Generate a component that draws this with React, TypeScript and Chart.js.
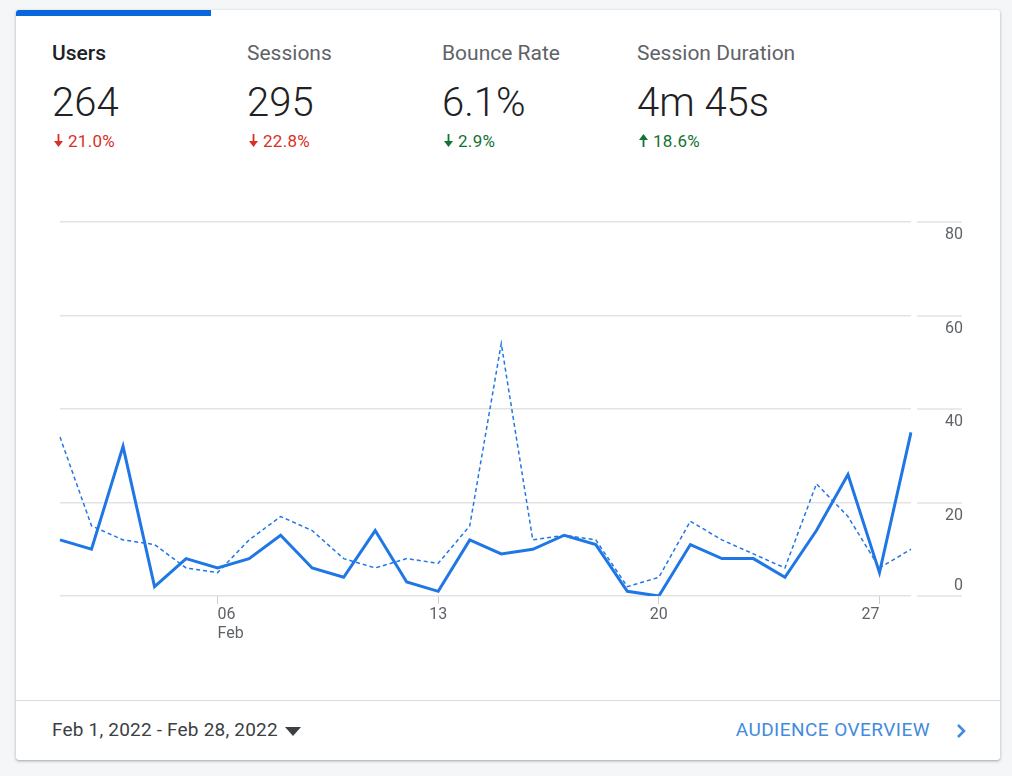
import { useEffect, useRef } from "react";
import { Chart, registerables, ChartConfiguration, Plugin } from "chart.js";

Chart.register(...registerables);

// day labels of the month (x axis categories)
const DAYS = [
  "01", "02", "03", "04", "05", "06", "07", "08", "09", "10", "11", "12", "13", "14",
  "15", "16", "17", "18", "19", "20", "21", "22", "23", "24", "25", "26", "27", "28",
];
const TICK_LABELS = ["06", "13", "20", "27"];
const MONTH_LABEL = "Feb";

// users per day, this period and the previous one
const THIS_PERIOD = [12, 10, 32, 2, 8, 6, 8, 13, 6, 4, 14, 3, 1, 12, 9, 10, 13, 11, 1, 0, 11, 8, 8, 4, 14, 26, 5, 35];
const PREVIOUS_PERIOD = [34, 15, 12, 11, 6, 5, 12, 17, 14, 8, 6, 8, 7, 15, 54, 12, 13, 12, 2, 4, 16, 12, 9, 6, 24, 17, 6, 10];

const Y_MAX = 80;
const Y_STEP = 20;

// header metrics
const METRIC_NAMES = ["Users", "Sessions", "Bounce Rate", "Session Duration"];
const METRIC_VALUES = ["264", "295", "6.1%", "4m 45s"];
const METRIC_CHANGES = ["21.0%", "22.8%", "2.9%", "18.6%"];
const METRIC_UP = [false, false, false, true];
const METRIC_GOOD = [false, false, true, true];

const FONT = "Roboto, Arial, sans-serif";
const LINE_BLUE = "#1f77e6";
const GRID = "#e3e3e3";
const LABEL = "#5f6368";

const axisLabels: Plugin<"line"> = {
  id: "axisLabels",
  afterDraw(chart) {
    const { ctx, chartArea, scales } = chart;
    const x = scales.x;
    const y = scales.y;
    ctx.save();
    ctx.font = `16px ${FONT}`;
    ctx.fillStyle = LABEL;

    // right side tick segments + labels
    ctx.strokeStyle = GRID;
    ctx.lineWidth = 1.5;
    ctx.textAlign = "right";
    ctx.textBaseline = "middle";
    y.ticks.forEach((t) => {
      const py = Math.round(y.getPixelForValue(t.value));
      ctx.beginPath();
      ctx.moveTo(chartArea.right + 6, py);
      ctx.lineTo(chartArea.right + 51, py);
      ctx.stroke();
      ctx.fillText(String(t.value), chartArea.right + 52, t.value === 0 ? py - 10 : py + 13);
    });

    // bottom labels
    DAYS.forEach((d, i) => {
      const k = TICK_LABELS.indexOf(d);
      if (k < 0) return;
      const px = x.getPixelForValue(i);
      ctx.textAlign = k === 0 ? "left" : k === TICK_LABELS.length - 1 ? "right" : "center";
      ctx.fillText(d, px, chartArea.bottom + 19);
      if (k === 0) ctx.fillText(MONTH_LABEL, px, chartArea.bottom + 38);
    });
    ctx.restore();
  },
};

function UsersChart() {
  const canvasRef = useRef<HTMLCanvasElement>(null);
  const chartRef = useRef<Chart | null>(null);

  useEffect(() => {
    if (!canvasRef.current) return;
    if (chartRef.current) chartRef.current.destroy();

    const config: ChartConfiguration<"line"> = {
      type: "line",
      data: {
        labels: DAYS,
        datasets: [
          {
            label: "This period",
            data: THIS_PERIOD,
            borderColor: LINE_BLUE,
            borderWidth: 3,
            pointRadius: 0,
            tension: 0,
          },
          {
            label: "Previous period",
            data: PREVIOUS_PERIOD,
            borderColor: LINE_BLUE,
            borderWidth: 1.5,
            borderDash: [4, 3],
            pointRadius: 0,
            tension: 0,
          },
        ],
      },
      options: {
        animation: false,
        responsive: true,
        maintainAspectRatio: false,
        layout: { padding: { left: 44, right: 89, top: 32, bottom: 74 } },
        plugins: {
          legend: { display: false },
          tooltip: { enabled: false },
        },
        scales: {
          x: {
            ticks: { display: false, autoSkip: false },
            grid: {
              drawOnChartArea: false,
              drawTicks: true,
              tickLength: 8,
              lineWidth: 1,
              color: (c) => (TICK_LABELS.includes(DAYS[c.index]) ? "#cfcfcf" : "rgba(0,0,0,0)"),
            },
            border: { display: false },
            afterFit: (s) => {
              s.height = 0;
            },
          },
          y: {
            position: "right",
            min: 0,
            max: Y_MAX,
            ticks: { display: false, stepSize: Y_STEP },
            grid: { color: GRID, lineWidth: 1.5, drawTicks: false },
            border: { display: false },
            afterFit: (s) => {
              s.width = 0;
            },
          },
        },
      },
      plugins: [axisLabels],
    };

    chartRef.current = new Chart(canvasRef.current, config);
    return () => {
      if (chartRef.current) {
        chartRef.current.destroy();
        chartRef.current = null;
      }
    };
  }, []);

  return <canvas ref={canvasRef} />;
}

function Arrow({ up, color }: { up: boolean; color: string }) {
  return (
    <svg width="9" height="13" viewBox="0 0 9 13" style={{ position: "absolute", left: 2, top: 3, transform: up ? "rotate(180deg)" : undefined }}>
      <rect x="3.6" y="0" width="1.8" height="8" fill={color} />
      <polygon points="0,7 9,7 4.5,13" fill={color} />
    </svg>
  );
}

export default function App() {
  return (
    <div style={{ position: "fixed", left: 0, top: 0, width: 1012, height: 776, background: "#f5f6f8", fontFamily: FONT, overflow: "hidden" }}>
      <div
        style={{
          position: "absolute",
          left: 16,
          top: 10,
          width: 984,
          height: 750,
          background: "#fff",
          borderRadius: 3,
          boxShadow: "0 1px 2px rgba(60,64,67,0.3), 0 1px 3px 1px rgba(60,64,67,0.12)",
          overflow: "hidden",
        }}
      >
        <div style={{ position: "absolute", left: 0, top: 0, width: 195, height: 6, background: "#0867dd" }} />

        {METRIC_NAMES.map((name, i) => {
          const color = METRIC_GOOD[i] ? "#137333" : "#d93025";
          return (
            <div key={name} style={{ position: "absolute", left: 36 + i * 195, top: 0, width: 190 }}>
              <div
                style={{
                  position: "absolute",
                  top: 31,
                  fontSize: 21,
                  lineHeight: "25px",
                  whiteSpace: "nowrap",
                  fontWeight: i === 0 ? 500 : 400,
                  color: i === 0 ? "#202124" : LABEL,
                }}
              >
                {name}
              </div>
              <div style={{ position: "absolute", top: 69, fontSize: 40, lineHeight: "48px", fontWeight: 300, color: "#202124", whiteSpace: "nowrap" }}>
                {METRIC_VALUES[i]}
              </div>
              <div style={{ position: "absolute", top: 121, height: 20, width: 120 }}>
                <Arrow up={METRIC_UP[i]} color={color} />
                <span style={{ position: "absolute", left: 16, top: 0, fontSize: 17, lineHeight: "20px", color, whiteSpace: "nowrap", letterSpacing: 0.3 }}>
                  {METRIC_CHANGES[i]}
                </span>
              </div>
            </div>
          );
        })}

        <div style={{ position: "absolute", left: 0, top: 180, width: 984, height: 480 }}>
          <UsersChart />
        </div>

        <div style={{ position: "absolute", left: 0, top: 690, width: 984, height: 1, background: "#dadce0" }} />

        <div style={{ position: "absolute", left: 36, top: 708, fontSize: 19, lineHeight: "24px", color: "#3c4043", whiteSpace: "nowrap", letterSpacing: 0.2 }}>
          Feb 1, 2022 - Feb 28, 2022
        </div>
        <svg width="16" height="9" viewBox="0 0 16 9" style={{ position: "absolute", left: 269, top: 717 }}>
          <polygon points="0,0 16,0 8,9" fill="#3c4043" />
        </svg>

        <div style={{ position: "absolute", right: 70, top: 708, fontSize: 19, lineHeight: "24px", color: "#428bdd", letterSpacing: 0.45, whiteSpace: "nowrap" }}>
          AUDIENCE OVERVIEW
        </div>
        <svg width="12" height="16" viewBox="0 0 12 16" style={{ position: "absolute", left: 939, top: 713 }}>
          <polyline points="3,2 9,8 3,14" fill="none" stroke="#428bdd" strokeWidth="2.6" />
        </svg>
      </div>
    </div>
  );
}
